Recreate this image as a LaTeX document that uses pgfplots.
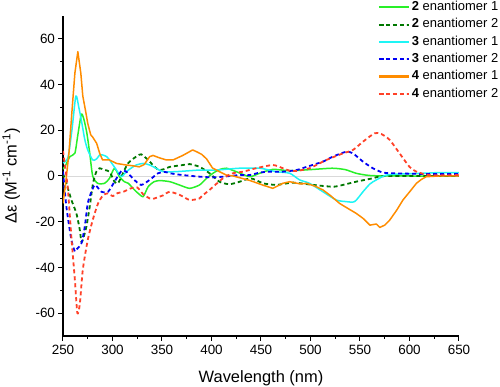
\documentclass[border=0pt]{standalone}
\usepackage{pgfplots}
\pgfplotsset{compat=1.18}
\usepackage{fontspec}
\setmainfont{Liberation Sans}
\definecolor{cgreen}{RGB}{40,240,40}
\definecolor{cdkgreen}{RGB}{0,120,0}
\definecolor{ccyan}{RGB}{30,245,245}
\definecolor{cblue}{RGB}{0,0,245}
\definecolor{corange}{RGB}{255,140,0}
\definecolor{cred}{RGB}{255,65,40}
\begin{document}
\begin{tikzpicture}
\begin{axis}[
  name=ax,
  scale only axis, width=396bp, height=320bp,
  xmin=250, xmax=650, ymin=-70, ymax=70,
  axis lines=left, axis line style={-, line width=1.1bp, black},
  xtick={250,300,...,650}, minor x tick num=1,
  ytick={-60,-40,...,60}, minor y tick num=1,
  tick align=outside, major tick length=4.5bp, minor tick length=2.8bp,
  tick style={line width=1bp, black},
  /pgf/number format/assume math mode=true,
  tick label style={font=\fontsize{13.5}{15}\selectfont},
  xticklabel style={yshift=-1bp},
  label style={font=\fontsize{16.5}{19}\selectfont},
  xlabel={Wavelength (nm)},
  ylabel={Δε (M\textsuperscript{-1} cm\textsuperscript{-1})},
  xlabel style={at={(axis description cs:0.5,-0.131)}, anchor=center},
  ylabel style={at={(axis description cs:-0.131,0.5)}, anchor=center},
  legend style={at={(axis description cs:0.787,1.0535)}, anchor=north west, draw=none, fill=none,
    font=\fontsize{13}{15}\selectfont, row sep=4.8bp, column sep=1.5bp,
    nodes={inner sep=0.5pt, text height=9bp, text depth=2.5bp}},
  legend cell align=left,
  legend image code/.code={\draw[#1, line width=2bp] plot coordinates {(0bp,0bp) (15bp,0bp) (30bp,0bp)};},
  every axis plot/.append style={line join=round},
  sol/.style={line width=1.5bp},
  dsh/.style={line width=1.8bp, dash pattern=on 4bp off 3bp},
]
\addplot[gray!30, line width=0.8bp, forget plot] coordinates {(250,0) (650,0)};
% 2 enantiomer 1
\addplot[cgreen, sol, smooth, tension=0.4] coordinates {
(250,3) (253,5) (257,8.5) (262,10) (265,18) (268.5,27) (271,25) (274,19) (277,10) (280,0)
(285,-3.2) (292,-3.2) (297,-1) (302,3.4) (307,-0.3) (312,-2.5) (316,-3.2) (322,-6) (326,-7.6)
(331,-9) (336,-4.7) (342,-2.5) (348,-2) (358,-2.5) (368,-4) (378,-5.4) (388,-3.9) (395,-1)
(401.5,1.2) (408,2.8) (415,3.4) (425,1.9) (438.6,-0.3) (448.7,1.2) (462,2.9) (479,2.3)
(500,2.8) (522,3.4) (535,2.8) (546,1.2) (556,0.4) (566,0.1) (600,0) (650,0)};
\addlegendentry{\textbf{2} enantiomer 1}
% 2 enantiomer 2
\addplot[cdkgreen, dsh, smooth, tension=0.4] coordinates {
(250,1) (253.4,-3.2) (258.5,-10.5) (263.5,-16.3) (267,-23.6) (268.5,-28.8) (270,-28) (273.6,-22.2)
(277,-13.4) (280.3,-3.2) (283.7,1.9) (287,3.4) (292,2.6) (297,1.9) (302,-2.5) (305.5,-3.2)
(309,-0.3) (315.6,5.5) (324,8.5) (329,9.5) (336,7) (342.6,4) (347,2.6) (352,3) (358,4) (371,4.8)
(378,5.2) (388,4) (398,1.2) (408,-2.5) (418,-3.6) (428.5,-2.5) (438.6,-1) (445,-1.8) (452,-3.2)
(465.5,-3.9) (482.5,-2.9) (502.6,-3.9) (522.7,-4.7) (532.8,-3.9) (546,-2.5) (563,-1) (576.6,0) (650,0)};
\addlegendentry{\textbf{2} enantiomer 2}
% 3 enantiomer 1
\addplot[ccyan, sol, smooth, tension=0.4] coordinates {
(250,5.7) (255,8) (259,20) (263,35) (266,30) (268.5,24.5) (272,16) (275,11.4) (280,7) (284,7.5)
(287,9.2) (290,9.2) (294,8.5) (297,7) (301,4.5) (304,2.6) (309,-0.3) (314,1.9) (319,3.5) (324,4.8)
(331,5.5) (337.6,4.8) (344,3.4) (351,1.9) (364,1.9) (388,2.6) (405,2.6) (428,3.4) (449,3.4)
(465,1.9) (479,1.2) (489,-1.7) (499,-3.2) (512.6,-6.9) (526,-10.5) (536,-11.2) (544.6,-11.2)
(553,-6.9) (560,-3.5) (566.5,-1.7) (576.6,0.4) (590,0.9) (614,1.2) (630,1.5) (650,1.5)};
\addlegendentry{\textbf{3} enantiomer 1}
% 3 enantiomer 2
\addplot[cblue, dsh, smooth, tension=0.4] coordinates {
(250,2) (253.4,-13.4) (258.5,-28) (262,-33) (264,-32) (268.6,-29.5) (272,-22.2) (275,-12)
(278.6,-7) (282,-3.9) (285,-5) (288.8,-6.9) (295.5,-6.9) (302,-2.5) (309,2.2) (314,1.9) (322,-1.7)
(329,-3.9) (337.6,-1.7) (346,1.2) (352.7,1.8) (358,1.2) (371,0.4) (388,-0.3) (401.5,-0.6)
(411.6,-0.3) (428.5,0.4) (438.6,0.4) (448.7,1.5) (458.8,1.9) (472,1.9) (485.8,2.6) (496,4)
(512.6,6.3) (522.7,8.5) (536,10.6) (542.9,9.9) (553,6.3) (563,3.4) (573,1.5) (583,1.2) (614,0.9) (650,0.9)};
\addlegendentry{\textbf{3} enantiomer 2}
% 4 enantiomer 1
\addplot[corange, sol] coordinates {
(250,-12) (253,-2) (256,10) (259,28) (262,45) (265,54.4) (268,45) (270,35) (273,28) (275,23)
(278,18) (280,17) (284,14.3) (287,10) (290,7) (297,7) (304,5.5) (314,4.8) (320,4.5) (327,4)
(332,5) (337.6,8.5) (341,9) (347,8) (354.5,7) (361,7) (371,9) (381,11.4) (385,10.6) (390,9.5)
(395,7.5) (401,3.5) (408,1.9) (415,0.4) (422,0) (439,-2) (452,-4) (462,-5.4) (472,-3.2)
(479,-2.5) (490,-3.5) (496,-3.2) (505,-4.5) (512.6,-6.1) (520,-8.5) (529.4,-12) (537,-14)
(546,-16.3) (553,-18.5) (560,-21.5) (566.5,-21) (570,-22.5) (575,-21.5) (580,-19.3) (587,-15)
(593.4,-10.5) (600,-7) (607,-3.2) (612,-1.5) (617,-0.3) (630,0) (650,0)};
\addlegendentry{\textbf{4} enantiomer 1}
% 4 enantiomer 2
\addplot[cred, dsh, smooth, tension=0.4] coordinates {
(250,11) (252.5,3) (255,-6) (258.5,-27) (262,-45.5) (264.5,-60) (267,-56) (270,-41) (275,-28)
(280,-19.3) (285.4,-12) (290.4,-8.5) (295,-7.6) (300.5,-8.8) (305,-7.5) (311,-6.9) (318,-5.5)
(325,-5) (331,-8) (337.6,-9.8) (341,-10) (347.7,-9) (351,-8.5) (357.8,-6.9) (368,-8.3) (378,-10.5)
(388,-9.8) (391,-8.5) (398,-6.1) (411.6,-1) (421.7,1.2) (432,1.9) (445,3.4) (462,4.8) (472,3.4)
(479,2.3) (485.8,2.2) (499,3.4) (516,7) (532.8,9.9) (542.9,11.4) (553,15) (564.7,18.7) (571.4,18.4)
(580,15.8) (590,9.9) (600,4) (607,1.9) (620.5,0.4) (650,0.4)};
\addlegendentry{\textbf{4} enantiomer 2}
\end{axis}
\pgfresetboundingbox
\path (-63bp,-51bp) rectangle (437bp,336bp);
\end{tikzpicture}
\end{document}
